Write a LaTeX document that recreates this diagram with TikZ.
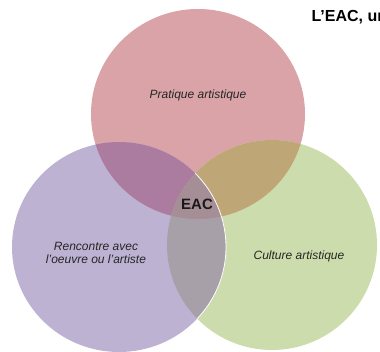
\documentclass[tikz,border=0pt]{standalone}
\usepackage{fontspec}
\setmainfont{Liberation Sans}
\definecolor{pratique}{RGB}{217,163,167}
\definecolor{rencontre}{RGB}{190,178,211}
\definecolor{culture}{RGB}{205,220,172}
\definecolor{prarenc}{RGB}{172,123,160}
\definecolor{pracult}{RGB}{191,166,119}
\definecolor{renccult}{RGB}{167,160,168}
\definecolor{eaccentre}{RGB}{166,142,150}

\begin{document}
\begin{tikzpicture}[x=1pt, y=-1pt,
        domaine/.style = {font=\fontsize{12}{13.5}\selectfont\itshape, align=center, text=black!85},
        centre/.style = {font=\fontsize{15}{17}\selectfont\bfseries, text=black!90},
        titre/.style = {font=\fontsize{16}{18}\selectfont\bfseries, anchor=west}
    ]
        \useasboundingbox (0,0) rectangle (380,352);
        \clip (0,0) rectangle (380,352);
        \def\ry{105}
        \coordinate (ctop) at (198,114);
        \coordinate (cleft) at (119,247);
        \coordinate (cright) at (272,245);
        \def\cerclepratique{(ctop) ellipse [x radius=107, y radius=\ry]}
        \def\cerclerencontre{(cleft) ellipse [x radius=107, y radius=\ry]}
        \def\cercleculture{(cright) ellipse [x radius=105, y radius=\ry]}

        % les trois cercles
        \fill[pratique] \cerclepratique;
        \fill[culture] \cercleculture;
        \fill[rencontre] \cerclerencontre;

        % intersections
        \begin{scope}
            \clip \cerclepratique;
            \fill[prarenc] \cerclerencontre;
            \fill[pracult] \cercleculture;
        \end{scope}
        \begin{scope}
            \clip \cerclerencontre;
            \fill[renccult] \cercleculture;
            \clip \cercleculture;
            \fill[eaccentre] \cerclepratique;
        \end{scope}
        \begin{scope}
            \clip \cercleculture;
            \draw[white, line width=0.8pt] \cerclerencontre;
        \end{scope}

        \node[domaine] (pratique) at (198,95) {Pratique artistique};
        \node[domaine] (rencontre) at (96,253) {Rencontre avec\\l'oeuvre ou l'artiste};
        \node[domaine] (culture) at (299,256) {Culture artistique};
        \node[centre] (eac) at (197,204) {EAC};
        \node[titre] (titre) at (308,17) {L'EAC, un};
    \end{tikzpicture}
\end{document}
